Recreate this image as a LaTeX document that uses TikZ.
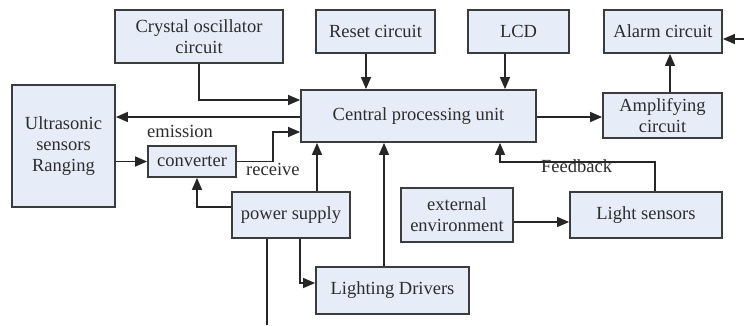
\documentclass[tikz,border=0pt]{standalone}
\usepackage{fontspec}
\setmainfont{Liberation Serif}
\usetikzlibrary{arrows.meta}
\definecolor{boxfill}{RGB}{230,236,248}
\definecolor{boxedge}{RGB}{60,60,60}
\definecolor{txt}{RGB}{45,45,45}
\begin{document}
\begin{tikzpicture}[x=1pt,y=-1pt,
  blk/.style={draw=boxedge,line width=1.8pt,fill=boxfill,inner sep=0pt,
    align=center,text=txt,font=\fontsize{18.5}{21}\selectfont},
  arr/.style={draw=black!85,line width=1.4pt,-{Triangle[length=12pt,width=10pt]}},
  ln/.style={draw=black!85,line width=1.4pt},
  lbl/.style={text=txt,font=\fontsize{18.5}{21}\selectfont,inner sep=0pt,anchor=base west}]
\useasboundingbox[fill=white] (0,0) rectangle (744,325);
% boxes
\node[blk,minimum width=168pt,minimum height=53pt] (crys) at (199,36.5) {Crystal oscillator\\circuit};
\node[blk,minimum width=119pt,minimum height=43pt] (reset) at (375.5,31.5) {Reset circuit};
\node[blk,minimum width=101pt,minimum height=43pt] (lcd) at (518.5,31.5) {LCD};
\node[blk,minimum width=118pt,minimum height=43pt] (alarm) at (663,31.5) {Alarm circuit};
\node[blk,minimum width=235pt,minimum height=52pt] (cpu) at (418.5,116) {Central processing unit};
\node[blk,minimum width=119pt,minimum height=45pt] (amp) at (662.5,115.5) {Amplifying\\circuit};
\node[blk,minimum width=103pt,minimum height=122pt] (ultra) at (63.5,146) {Ultrasonic\\sensors\\Ranging};
\node[blk,minimum width=88pt,minimum height=31pt] (conv) at (192,161.5) {converter};
\node[blk,minimum width=118pt,minimum height=46pt] (power) at (291,215) {power supply};
\node[blk,minimum width=153pt,minimum height=47pt] (ldrv) at (392.5,290.5) {Lighting Drivers};
\node[blk,minimum width=112pt,minimum height=54pt] (ext) at (457,215) {external\\environment};
\node[blk,minimum width=152pt,minimum height=46pt] (lsens) at (646,215) {Light sensors};
% labels
\node[lbl] (lemis) at (147,137) {emission};
\node[lbl] (lrec) at (246,175) {receive};
\node[lbl] (lfb) at (541,172) {Feedback};
% free ends
\coordinate (alarmin) at (744,39);
\coordinate (pwrout) at (267,325);
% connectors
\draw[arr] (crys.south) |- (cpu.west|-0,100);
\draw[arr] (cpu.west|-0,117) -- (ultra.east|-0,117);
\draw[arr] (ultra.east|-conv.west) -- (conv.west);
\draw[arr] (conv.east) -- (273,161.5) |- (cpu.west|-0,132);
\draw[arr] (power.north-|317,0) -- (cpu.south-|317,0);
\draw[arr] (power.west|-0,207) -| (conv.south-|197,0);
\draw[ln] (power.south-|267,0) -- (pwrout);
\draw[arr] (power.south-|300,0) |- (ldrv.west|-0,283);
\draw[arr] (ldrv.north-|384,0) -- (cpu.south-|384,0);
\draw[arr] (reset.south-|366,0) -- (cpu.north-|366,0);
\draw[arr] (lcd.south-|505,0) -- (cpu.north-|505,0);
\draw[arr] (cpu.east|-0,117) -- (amp.west|-0,117);
\draw[arr] (amp.north-|670,0) -- (alarm.south-|670,0);
\draw[arr] (alarmin) -- (alarm.east|-alarmin);
\draw[arr] (lsens.north-|655,0) -- (655,162) -| (cpu.south-|500,0);
\draw[arr] (ext.east|-0,222) -- (lsens.west|-0,222);
\end{tikzpicture}
\end{document}
